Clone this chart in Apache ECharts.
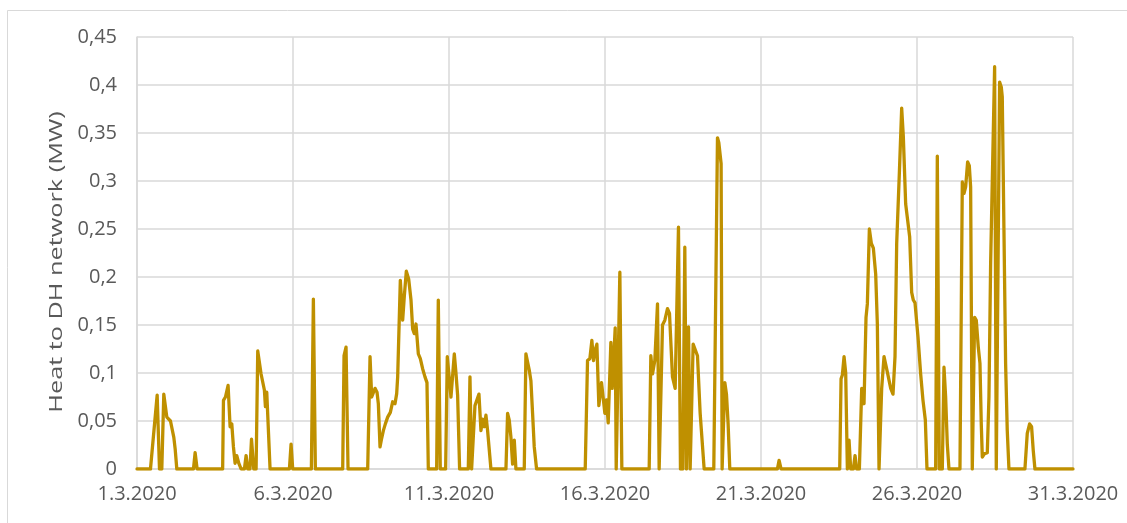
<!DOCTYPE html>
<html>
<head>
<meta charset="utf-8">
<script src="https://cdn.jsdelivr.net/npm/echarts@6/dist/echarts.min.js"></script>
<style>
  html, body { margin: 0; padding: 0; background: #ffffff; }
  #chart { width: 1127px; height: 523px; }
</style>
</head>
<body>
<div id="chart"></div>
<script>
// Heat delivered to the district heating network, March 2020.
// Time is given in days after 1.3.2020 00:00.
const dayOffset = [
  0, 0.432, 0.646, 0.721, 0.795, 0.859, 0.956, 1.073, 1.18, 1.223, 1.276,
  1.81, 1.863, 1.927, 2.745, 2.771, 2.835, 2.92, 2.984, 3.038, 3.091, 3.144,
  3.198, 3.262, 3.337, 3.443, 3.497, 3.55, 3.62, 3.67, 3.742, 3.817, 3.87,
  3.977, 4.084, 4.116, 4.159, 4.223, 4.265, 4.885, 4.938, 4.991, 5.589, 5.653,
  5.717, 6.593, 6.636, 6.7, 6.764, 7.394, 7.469, 7.522, 7.629, 7.693, 7.735,
  7.789, 7.842, 7.896, 7.96, 8.034, 8.12, 8.194, 8.269, 8.323, 8.355, 8.44,
  8.515, 8.568, 8.632, 8.707, 8.782, 8.835, 8.889, 8.942, 9.017, 9.081, 9.155,
  9.23, 9.294, 9.337, 9.604, 9.657, 9.721, 9.892, 9.945, 9.988, 10.063, 10.17,
  10.223, 10.276, 10.34, 10.618, 10.672, 10.725, 10.789, 10.832, 10.896, 10.96,
  11.024, 11.077, 11.13, 11.184, 11.237, 11.344, 11.825, 11.878, 11.931, 11.985,
  12.038, 12.092, 12.145, 12.412, 12.465, 12.518, 12.572, 12.625, 12.679,
  12.732, 12.807, 14.366, 14.44, 14.515, 14.579, 14.633, 14.686, 14.74, 14.803,
  14.889, 14.942, 14.996, 15.049, 15.103, 15.188, 15.231, 15.273, 15.327,
  15.359, 15.423, 15.476, 15.54, 16.416, 16.469, 16.522, 16.597, 16.683,
  16.736, 16.789, 16.843, 16.918, 17.003, 17.067, 17.163, 17.249, 17.355,
  17.419, 17.494, 17.558, 17.611, 17.676, 17.729, 17.772, 17.825, 17.889,
  17.964, 18.05, 18.178, 18.487, 18.605, 18.648, 18.722, 18.754, 18.797, 18.84,
  18.893, 18.946, 19.0, 20.526, 20.58, 20.644, 22.523, 22.566, 22.608, 22.662,
  22.715, 22.768, 22.822, 22.875, 22.961, 23.014, 23.067, 23.153, 23.228,
  23.302, 23.366, 23.409, 23.473, 23.537, 23.601, 23.676, 23.729, 23.783,
  23.836, 23.868, 23.943, 24.05, 24.157, 24.231, 24.295, 24.349, 24.434,
  24.509, 24.562, 24.637, 24.69, 24.765, 24.829, 24.882, 24.936, 25.032,
  25.117, 25.192, 25.267, 25.32, 25.598, 25.651, 25.715, 25.811, 25.865,
  25.918, 25.971, 26.025, 26.377, 26.452, 26.505, 26.559, 26.623, 26.676,
  26.719, 26.772, 26.804, 26.847, 26.9, 26.964, 27.018, 27.06, 27.093, 27.167,
  27.253, 27.306, 27.36, 27.413, 27.488, 27.541, 27.594, 27.648, 27.701,
  27.733, 27.787, 27.84, 27.893, 27.947, 28.459, 28.534, 28.609, 28.673,
  28.727, 28.78, 30
];

const heatMW = [
  0, 0, 0.077, 0, 0, 0.078, 0.054, 0.05, 0.033, 0.021, 0,
  0, 0.017, 0, 0, 0.0715, 0.075, 0.087, 0.044, 0.047, 0.023, 0.006,
  0.014, 0.006, 0, 0, 0.014, 0, 0, 0.031, 0, 0, 0.123,
  0.099, 0.082, 0.065, 0.08, 0.079, 0, 0, 0.026, 0, 0, 0.177,
  0, 0, 0.118, 0.127, 0, 0, 0.117, 0.075, 0.084, 0.08, 0.068,
  0.023, 0.032, 0.04, 0.047, 0.054, 0.059, 0.07, 0.068, 0.0785, 0.096, 0.1965,
  0.155, 0.18, 0.206, 0.198, 0.176, 0.146, 0.141, 0.151, 0.12, 0.115, 0.1045,
  0.096, 0.09, 0, 0, 0.176, 0, 0, 0.117, 0.118, 0.075, 0.12,
  0.1, 0.077, 0, 0, 0.096, 0, 0, 0.066, 0.068, 0.078,
  0.04, 0.052, 0.044, 0.056, 0.04, 0, 0, 0.058, 0.051, 0.033,
  0.005, 0.03, 0, 0, 0.12, 0.118, 0.103, 0.092, 0.058,
  0.023, 0, 0, 0.113, 0.115, 0.134, 0.113, 0.124, 0.13, 0.066,
  0.09, 0.089, 0.058, 0.072, 0.048, 0.132, 0.084, 0.084, 0.147,
  0, 0, 0.205, 0, 0, 0.118, 0.099, 0.113, 0.172,
  0, 0, 0.15, 0.155, 0.167, 0.162, 0.096, 0.084, 0.252,
  0, 0, 0.231, 0, 0.148, 0, 0, 0.13, 0.132,
  0.118, 0.058, 0, 0, 0.345, 0.34, 0.318, 0, 0, 0.09,
  0.078, 0.047, 0, 0, 0.009, 0, 0, 0.094, 0.098, 0.117,
  0.1, 0, 0.03, 0, 0, 0.014, 0, 0, 0.084,
  0.068, 0.158, 0.172, 0.25, 0.235, 0.23, 0.203, 0.151, 0,
  0, 0.084, 0.117, 0.101, 0.084, 0.078, 0.117, 0.235, 0.308,
  0.376, 0.346, 0.276, 0.275, 0.242, 0.184, 0.176, 0.173, 0.1375,
  0.099, 0.0715, 0.051, 0, 0, 0.326, 0, 0, 0.106,
  0.075, 0.026, 0, 0, 0.299, 0.287, 0.294, 0.32, 0.316,
  0.294, 0, 0, 0.158, 0.155, 0.127, 0.11, 0.047, 0.0125, 0.016,
  0.017, 0.075, 0.214, 0.3, 0.419, 0, 0, 0.403, 0.398,
  0.3875, 0.249, 0.11, 0.04, 0, 0, 0.037, 0.047, 0.044,
  0.019, 0, 0
];

const xTickLabels = ['1.3.2020', '6.3.2020', '11.3.2020', '16.3.2020', '21.3.2020', '26.3.2020', '31.3.2020'];
const yTickLabels = ['0', '0,05', '0,1', '0,15', '0,2', '0,25', '0,3', '0,35', '0,4', '0,45'];
const yAxisTitle = 'Heat to DH network (MW)';

const points = dayOffset.map((d, i) => [d, heatMW[i]]);

const labelFont = "'Open Sans', sans-serif";
const gridColor = '#d9d9d9';
const textColor = '#595959';

const chart = echarts.init(document.getElementById('chart'), null, { renderer: 'canvas' });

chart.setOption({
  animation: false,
  backgroundColor: '#ffffff',
  grid: { left: 137, top: 37, width: 936, height: 432, containLabel: false },
  xAxis: {
    type: 'value',
    min: 0,
    max: 30,
    interval: 5,
    axisLine: { show: true, lineStyle: { color: gridColor, width: 1.5 } },
    axisTick: { show: false },
    splitLine: { show: true, lineStyle: { color: gridColor, width: 1.5 } },
    axisLabel: {
      margin: 15,
      color: textColor,
      fontFamily: labelFont,
      fontSize: 20,
      formatter: v => xTickLabels[Math.round(v / 5)]
    }
  },
  yAxis: {
    type: 'value',
    min: 0,
    max: 0.45,
    interval: 0.05,
    axisLine: { show: true, lineStyle: { color: gridColor, width: 1.5 } },
    axisTick: { show: false },
    splitLine: { show: true, lineStyle: { color: gridColor, width: 1.5 } },
    axisLabel: {
      margin: 20,
      color: textColor,
      fontFamily: labelFont,
      fontSize: 20,
      formatter: v => yTickLabels[Math.round(v / 0.05)]
    }
  },
  graphic: [
    {
      type: 'rect',
      silent: true,
      shape: { x: 7.5, y: 10.5, width: 1140, height: 540 },
      style: { fill: 'none', stroke: gridColor, lineWidth: 1 }
    },
    {
      type: 'text',
      silent: true,
      x: 56.5,
      y: 262,
      rotation: Math.PI / 2,
      scaleX: 1.33,
      style: {
        text: yAxisTitle,
        fill: textColor,
        font: "19px 'Open Sans', sans-serif",
        textAlign: 'center',
        textVerticalAlign: 'middle'
      }
    }
  ],
  series: [
    {
      type: 'line',
      data: points,
      showSymbol: false,
      symbol: 'none',
      lineStyle: { color: '#BF9000', width: 3.3, join: 'round', cap: 'round' },
      z: 3
    }
  ]
});
</script>
</body>
</html>
